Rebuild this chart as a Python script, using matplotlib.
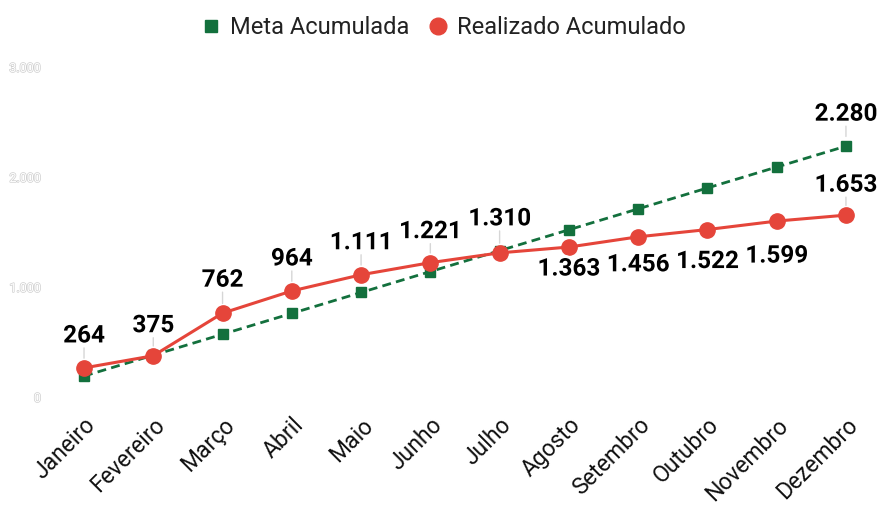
import matplotlib.pyplot as plt
import matplotlib.patheffects as pe

plt.rcParams['font.family'] = ['Roboto', 'DejaVu Sans']

meses = ['Janeiro', 'Fevereiro', 'Março', 'Abril', 'Maio', 'Junho', 'Julho',
         'Agosto', 'Setembro', 'Outubro', 'Novembro', 'Dezembro']
meta = [190, 380, 570, 760, 950, 1140, 1330, 1520, 1710, 1900, 2090, 2280]
realizado = [264, 375, 762, 964, 1111, 1221, 1310, 1363, 1456, 1522, 1599, 1653]
yticks = [0, 1000, 2000, 3000]

# label offsets in pixels (positive = above, no leader line when below)
real_off = [32, 30, 33, 32, 32, 31, 34, -22, -28, -32, -35, 30]

GREEN = '#13703d'
RED = '#e5453a'


def fmt(v):
    return f'{v:,}'.replace(',', '.')


fig = plt.figure(figsize=(8.85, 5.05), dpi=100)
ax = fig.add_axes([0.0558, 0.2139, 0.9392, 0.6535])

x = list(range(len(meses)))
ax.plot(x, meta, color=GREEN, lw=2, ls=(0, (3.2, 1.9)), marker='s', ms=7,
        label='Meta Acumulada', zorder=2)
ax.plot(x, realizado, color=RED, lw=2.2, marker='o', ms=11,
        label='Realizado Acumulado', zorder=3)

halo = [pe.withStroke(linewidth=4, foreground='white')]


def label(xi, yi, off):
    if off > 0:
        ax.annotate('', xy=(xi, yi), xytext=(0, off - 12), textcoords='offset pixels',
                    arrowprops=dict(arrowstyle='-', color='#d6d6d6', lw=1,
                                    shrinkA=0, shrinkB=7), zorder=1)
    ax.annotate(fmt(yi), xy=(xi, yi), xytext=(0, off), textcoords='offset pixels',
                ha='center', va='center', fontsize=17.5, fontweight='bold',
                color='black', path_effects=halo, zorder=5)


for xi, yi, off in zip(x, realizado, real_off):
    label(xi, yi, off)
label(x[-1], meta[-1], 32)

ax.set_xlim(-0.5, len(meses) - 0.5)
ax.set_ylim(0, 3000)
ax.set_yticks(yticks)
ax.set_yticklabels([fmt(v) for v in yticks], fontsize=9, color='white',
                   path_effects=[pe.withStroke(linewidth=1, foreground='#cfcfcf')])
ax.tick_params(axis='y', length=0, pad=6)
ax.set_xticks(x)
ax.set_xticklabels(meses, rotation=45, ha='right', rotation_mode='anchor',
                   fontsize=16.5, color='#111111')
ax.tick_params(axis='x', length=0, pad=12)
for s in ax.spines.values():
    s.set_visible(False)

fig.legend(loc='upper center', bbox_to_anchor=(0.5, 1.01), ncol=2, frameon=False,
           fontsize=17, handlelength=1, handletextpad=0.3, columnspacing=0.75,
           handles=[plt.Line2D([], [], ls='', marker='s', ms=8, color=GREEN),
                    plt.Line2D([], [], ls='', marker='o', ms=12, color=RED)],
           labels=['Meta Acumulada', 'Realizado Acumulado'], labelcolor='#222222')

fig.savefig('out.png', dpi=100)
